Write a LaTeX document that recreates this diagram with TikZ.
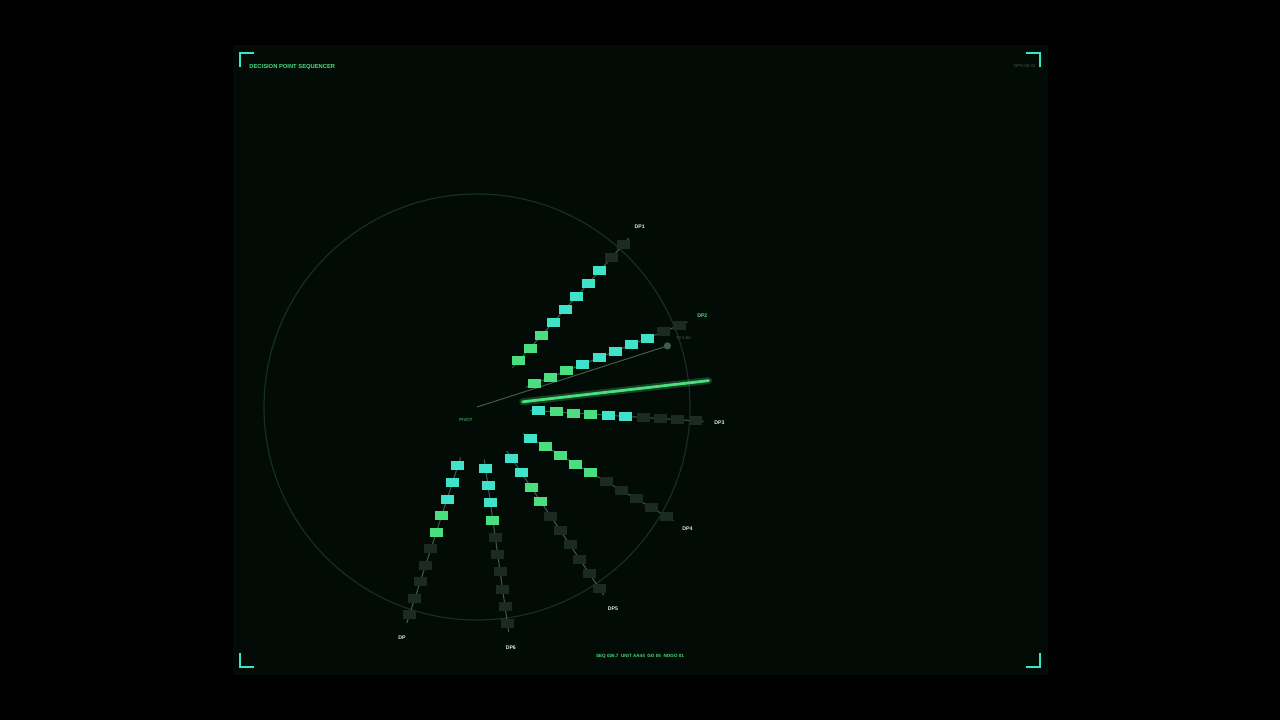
\documentclass[tikz,border=0pt]{standalone}
\usepackage{fontspec}
\setmainfont{Liberation Sans}
\usetikzlibrary{calc}
\definecolor{panel}{HTML}{020B05}
\definecolor{ringc}{HTML}{153020}
\definecolor{cyanbox}{HTML}{3EE3C9}
\definecolor{greenbox}{HTML}{4ADE80}
\definecolor{darkbox}{HTML}{1B2B21}
\definecolor{wire}{HTML}{3F5E4A}
\definecolor{labelc}{HTML}{DDEEE2}
\definecolor{dimtext}{HTML}{3C5C48}

\begin{document}
\begin{tikzpicture}[x=0.5pt,y=0.5pt,yscale=-1,
    cell/.style={minimum width=6.5pt,minimum height=4.5pt,inner sep=0pt},
    bracket/.style={draw=cyanbox,line width=1pt},
    tag/.style={inner sep=0pt,font=\fontsize{2.6}{3}\selectfont\bfseries},
    tinytag/.style={inner sep=0pt,font=\fontsize{2.2}{2.6}\selectfont}]
  \useasboundingbox (0,0) rectangle (1280,720);
  \fill[black] (0,0) rectangle (1280,720);
  \fill[panel] (233,45) rectangle (1048,675);

  % corner brackets
  \draw[bracket] (240,67) -- (240,53) -- (254,53);
  \draw[bracket] (1026,53) -- (1040,53) -- (1040,67);
  \draw[bracket] (240,653) -- (240,667) -- (254,667);
  \draw[bracket] (1026,667) -- (1040,667) -- (1040,653);

  \node[tag,text=greenbox,anchor=west,font=\fontsize{2.9}{3.3}\selectfont\bfseries] (title) at (249,67) {DECISION POINT SEQUENCER};
  \node[tinytag,text=dimtext,anchor=east] (code) at (1036,66) {DPS-06 02};
  \node[tag,text=greenbox,font=\fontsize{2.3}{2.7}\selectfont\bfseries] (status) at (640,656) {SEQ 026.7 \ UNIT AA44 \ GO 05 \ NOGO 01};

  % ring round the pivot
  \coordinate (pivot) at (477,407);
  \draw[ringc,line width=0.6pt] (pivot) circle[radius=106.5pt];
  \node[tinytag,text=greenbox] (pivlab) at (466,420) {PIVOT};

  % probe
  \coordinate (probe) at ($(pivot)+(-17.8:200)$);
  \draw[wire,line width=0.5pt] (pivot) -- (probe);
  \fill[wire] (probe) circle[radius=1.8pt];
  \node[tinytag,text=dimtext,anchor=west] (probelab) at ($(probe)+(8,-8)$) {T0 0.66};

  % branches
  \foreach \a/\lab/\na/\nb/\nc [count=\i] in {48/DP1/0/3/5,22/DP2/0/3/5,-3.6/DP3/1/3/2,
      -30/DP4/1/4/0,-56/DP5/2/2/0,-82/DP6/3/1/0,-108/DP/3/2/0}{
    \coordinate (s\i) at ($(pivot)+({-\a}:53)$);
    \coordinate (e\i) at ($(pivot)+({-\a}:227)$);
    \draw[wire,line width=0.5pt] (s\i) -- (e\i);
    \foreach \j in {1,...,10}{
      \pgfmathtruncatemacro\code{(\j>\na)+(\j>\na+\nb)+(\j>\na+\nb+\nc)}
      \ifcase\code \def\bc{cyanbox}\or \def\bc{greenbox}\or \def\bc{cyanbox}\else \def\bc{darkbox}\fi
      \node[cell,fill=\bc] (b\i-\j) at ($(pivot)+({-\a}:{62+(\j-1)*17.4})$) {};
    }
    \def\lc{labelc}\ifnum\i=2 \def\lc{greenbox}\fi
    \node[tag,text=\lc] (dp\i) at ($(pivot)+({-\a}:243)$) {\lab};
  }

  % sweep
  \coordinate (sw0) at ($(pivot)+(-6.5:46)$);
  \coordinate (sw1) at ($(pivot)+(-6.5:233)$);
  \draw[greenbox,opacity=0.25,line width=3.5pt,line cap=round] (sw0) -- (sw1);
  \draw[greenbox,line width=1.4pt,line cap=round] (sw0) -- (sw1);
\end{tikzpicture}
\end{document}
